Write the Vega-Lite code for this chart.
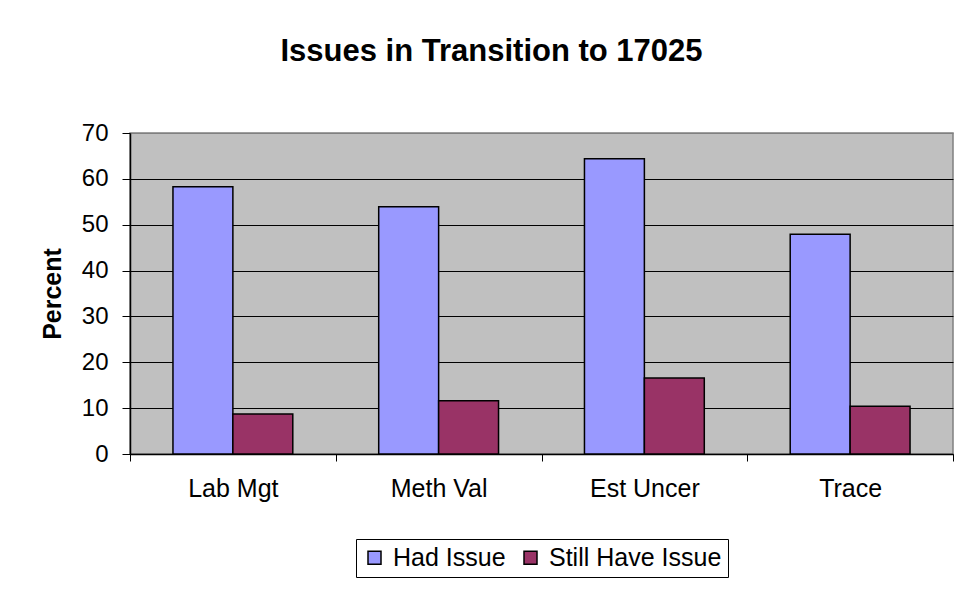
{
  "$schema": "https://vega.github.io/schema/vega-lite/v6.json",
  "width": 823,
  "height": 321,
  "autosize": "none",
  "padding": {"left": 130, "top": 133, "right": 6, "bottom": 135},
  "background": "white",
  "title": {
    "text": "Issues in Transition to 17025",
    "font": "Liberation Sans",
    "fontSize": 31,
    "fontWeight": "bold",
    "color": "black",
    "anchor": "middle",
    "dx": -50,
    "offset": 29,
    "baseline": "alphabetic"
  },
  "data": {
    "values": [
      {"category": "Lab Mgt", "series": "Had Issue", "percent": 58.3},
      {"category": "Lab Mgt", "series": "Still Have Issue", "percent": 8.7},
      {"category": "Meth Val", "series": "Had Issue", "percent": 53.9},
      {"category": "Meth Val", "series": "Still Have Issue", "percent": 11.6},
      {"category": "Est Uncer", "series": "Had Issue", "percent": 64.4},
      {"category": "Est Uncer", "series": "Still Have Issue", "percent": 16.6},
      {"category": "Trace", "series": "Had Issue", "percent": 47.9},
      {"category": "Trace", "series": "Still Have Issue", "percent": 10.4}
    ]
  },
  "mark": {"type": "bar", "stroke": "black", "strokeWidth": 1.5, "opacity": 1},
  "encoding": {
    "x": {
      "field": "category",
      "type": "nominal",
      "sort": null,
      "scale": {"paddingInner": 0, "paddingOuter": 0},
      "axis": {
        "title": null,
        "labelAngle": 0,
        "labelFont": "Liberation Sans",
        "labelFontSize": 25,
        "labelColor": "black",
        "labelPadding": 15,
        "tickBand": "extent",
        "tickSize": 7,
        "tickColor": "black",
        "domainColor": "black",
        "domainWidth": 1.5,
        "grid": false
      }
    },
    "xOffset": {
      "field": "series",
      "sort": null,
      "scale": {"paddingInner": 0, "paddingOuter": 0.717}
    },
    "y": {
      "field": "percent",
      "type": "quantitative",
      "scale": {"domain": [0, 70], "nice": false},
      "axis": {
        "title": "Percent",
        "titleFont": "Liberation Sans",
        "titleFontSize": 25,
        "titleFontWeight": "bold",
        "titleColor": "black",
        "titlePadding": 16,
        "labelFont": "Liberation Sans",
        "labelFontSize": 24,
        "labelColor": "black",
        "labelPadding": 14,
        "values": [0, 10, 20, 30, 40, 50, 60, 70],
        "tickSize": 8,
        "tickColor": "black",
        "domainColor": "black",
        "domainWidth": 1.5,
        "grid": true,
        "gridColor": {"condition": {"test": "datum.value >= 70", "value": "#808080"}, "value": "black"},
        "gridWidth": 1,
        "gridOpacity": 1
      }
    },
    "color": {
      "field": "series",
      "type": "nominal",
      "sort": null,
      "scale": {"domain": ["Had Issue", "Still Have Issue"], "range": ["#9999FF", "#993366"]},
      "legend": {
        "title": null,
        "orient": "none",
        "legendX": 226,
        "legendY": 406,
        "direction": "horizontal",
        "fillColor": "white",
        "strokeColor": "black",
        "padding": 6,
        "symbolType": "square",
        "symbolSize": 169,
        "symbolStrokeColor": "black",
        "symbolStrokeWidth": 1.5,
        "symbolOpacity": 1,
        "labelFont": "Liberation Sans",
        "labelFontSize": 25,
        "labelColor": "black",
        "labelOffset": 6,
        "labelLimit": 400,
        "columnPadding": 12
      }
    }
  },
  "config": {
    "view": {"fill": "#C0C0C0", "stroke": "#808080", "strokeWidth": 1.5}
  }
}
